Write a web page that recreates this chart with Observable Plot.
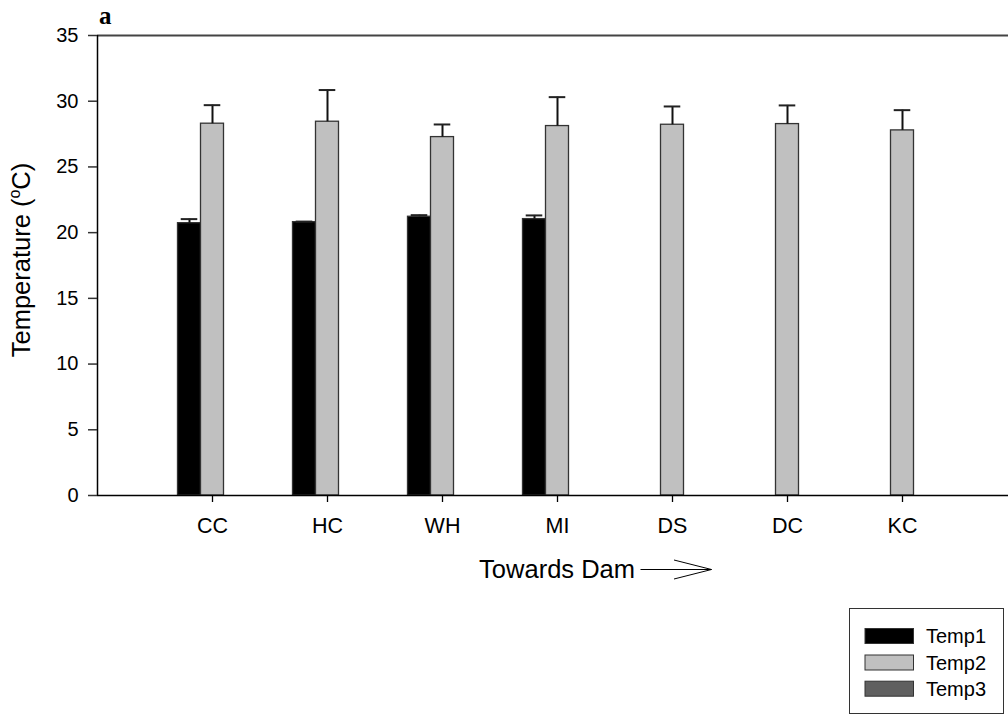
<!DOCTYPE html>
<html>
<head>
<meta charset="utf-8">
<script src="https://cdn.jsdelivr.net/npm/d3@7"></script>
<script src="https://cdn.jsdelivr.net/npm/@observablehq/plot@0.6"></script>
<style>
  html, body { margin: 0; padding: 0; background: #fff; overflow: hidden; }
  svg { display: block; }
</style>
</head>
<body>
<script>
// Sampling sites, ordered towards the dam
const categories = ["CC", "HC", "WH", "MI", "DS", "DC", "KC"];
const seriesNames = ["Temp1", "Temp2", "Temp3"];
const seriesColors = ["#000000", "#c0c0c0", "#606060"];

// Mean temperature (°C) and upper error per site
const temp1 = [20.72, 20.80, 21.21, 21.03, null, null, null];
const temp1Err = [0.31, 0.04, 0.12, 0.28, null, null, null];
const temp2 = [28.29, 28.44, 27.27, 28.11, 28.21, 28.26, 27.78];
const temp2Err = [1.41, 2.41, 0.96, 2.20, 1.39, 1.42, 1.54];
const temp3 = [null, null, null, null, null, null, null];
const temp3Err = [null, null, null, null, null, null, null];

const yTicks = [0, 5, 10, 15, 20, 25, 30, 35];

const values = [temp1, temp2, temp3];
const errors = [temp1Err, temp2Err, temp3Err];

// Long-format rows: one per drawn bar
const rows = [];
seriesNames.forEach((name, s) => {
  categories.forEach((cat, i) => {
    const v = values[s][i];
    if (v != null) rows.push({cat, i, series: name, s, value: v, err: errors[s][i] ?? 0});
  });
});

const barW = 0.2;                       // bar width in category units
const center = d => d.i + (d.s - 1) * barW;
const capHalf = 0.072;

const font = "Liberation Sans, Arial, Helvetica, sans-serif";

const chart = Plot.plot({
  width: 1008,
  height: 715,
  marginLeft: 97,
  marginRight: 0,
  marginTop: 35,
  marginBottom: 220,
  style: {fontFamily: font, fontSize: "20px", color: "#000", background: "#fff"},
  x: {type: "linear", domain: [-1, 7], range: [97, 1017]},
  y: {domain: [0, 35]},
  color: {domain: seriesNames, range: seriesColors},
  marks: [
    Plot.rectY(rows, {
      x1: d => center(d) - barW / 2,
      x2: d => center(d) + barW / 2,
      y1: 0,
      y2: "value",
      fill: "series",
      stroke: "#333",
      strokeWidth: 1.3
    }),
    Plot.ruleX(rows, {x: center, y1: "value", y2: d => d.value + d.err, stroke: "#111", strokeWidth: 2}),
    Plot.ruleY(rows, {
      y: d => d.value + d.err,
      x1: d => center(d) - capHalf,
      x2: d => center(d) + capHalf,
      stroke: "#222",
      strokeWidth: 2
    }),
    Plot.ruleY([35], {stroke: "#444", strokeWidth: 2}),
    Plot.ruleY([0], {stroke: "#000", strokeWidth: 1.5}),
    Plot.ruleX([-1], {stroke: "#000", strokeWidth: 1.5}),
    Plot.axisY({
      ticks: yTicks,
      tickSize: 9,
      tickPadding: 10,
      fontSize: 20,
      label: null,
      stroke: "#333",
      strokeWidth: 1.5
    }),
    Plot.axisX({
      ticks: d3.range(categories.length),
      tickFormat: i => categories[i],
      tickSize: 7,
      tickPadding: 15,
      fontSize: 21.5,
      label: null,
      stroke: "#000",
      strokeWidth: 1.3
    })
  ]
});

document.body.appendChild(chart);

const svg = d3.select(chart);

// Panel letter
svg.append("text")
  .attr("x", 99).attr("y", 24)
  .attr("text-anchor", "start")
  .attr("font-family", "Liberation Serif, Times New Roman, serif")
  .attr("font-weight", "bold")
  .attr("font-size", 25)
  .attr("fill", "#000")
  .text("a");

// Y axis title with superscript degree
const yt = svg.append("text")
  .attr("transform", "translate(30,260) rotate(-90)")
  .attr("text-anchor", "middle")
  .attr("font-family", font)
  .attr("font-size", 25.5)
  .attr("fill", "#000");
yt.append("tspan").text("Temperature (");
yt.append("tspan").attr("font-size", 16).attr("dy", -10).text("o");
yt.append("tspan").attr("dy", 10).text("C)");

// X axis title with direction arrow
svg.append("text")
  .attr("x", 635).attr("y", 578)
  .attr("text-anchor", "end")
  .attr("font-family", font)
  .attr("font-size", 25.5)
  .attr("fill", "#000")
  .text("Towards Dam");
svg.append("path")
  .attr("d", "M640.5,569.5H711.5M674,560L711.5,569.5L674,579")
  .attr("fill", "none")
  .attr("stroke", "#000")
  .attr("stroke-width", 1);

// Legend
const lg = svg.append("g");
lg.append("rect")
  .attr("x", 849.5).attr("y", 608.5)
  .attr("width", 154).attr("height", 105)
  .attr("fill", "#fff").attr("stroke", "#333").attr("stroke-width", 1);
const legendY = [636, 662.5, 688.7];
seriesNames.forEach((name, s) => {
  lg.append("rect")
    .attr("x", 865).attr("y", legendY[s] - 7.5)
    .attr("width", 48.5).attr("height", 15)
    .attr("fill", seriesColors[s])
    .attr("stroke", "#333").attr("stroke-width", 1);
  lg.append("text")
    .attr("x", 926).attr("y", legendY[s])
    .attr("dy", "0.36em")
    .attr("text-anchor", "start")
    .attr("font-family", font)
    .attr("font-size", 20)
    .attr("fill", "#000")
    .text(name);
});
</script>
</body>
</html>
